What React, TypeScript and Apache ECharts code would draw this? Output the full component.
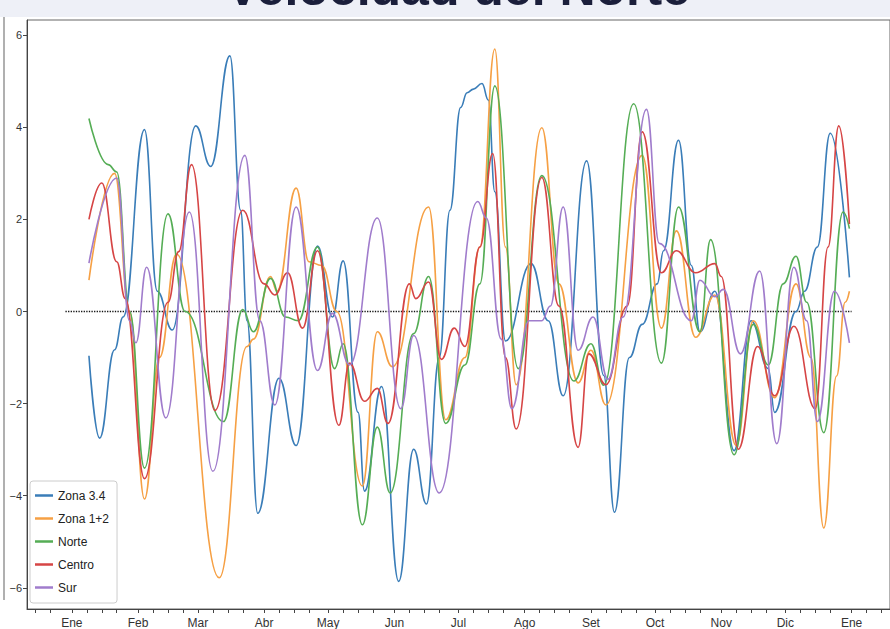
import React, { useEffect, useRef } from "react";
import * as echarts from "echarts";

// Day-of-year (0 = 1 Ene) and value pairs
const zona34: [number, number][] = [
  [8, -0.96], [13, -2.75], [20, -0.83], [24, -0.12], [34, 3.95], [40, 0.44], [47, -0.4],
  [58, 4.03], [65, 3.15], [74, 5.55], [79, 2.2], [82, -0.2], [87, -4.38], [97, -1.45],
  [105, -2.91], [115, 1.42], [122, -0.12], [127, 1.1], [134, -2.19], [137, -3.9],
  [145, -1.63], [153, -5.86], [160, -2.99], [166, -4.18], [172, -1.0], [177, 2.2],
  [182, 4.43], [185, 4.75], [188, 4.83], [192, 4.95], [195, 4.59], [198, 2.6], [203, -0.64],
  [215, 1.04], [223, -0.2], [230, -1.83], [241, 3.27], [249, -1.39], [254, -4.36],
  [261, -1.0], [267, -0.28], [274, 0.6], [277, 1.32], [284, 3.72], [290, 1.0], [294, -0.44],
  [301, 0.44], [310, -3.02], [318, -0.2], [326, -1.24], [329, -2.19], [339, 0.0],
  [343, 0.44], [349, 1.4], [355, 3.87], [364, 0.74],
];
const zona12: [number, number][] = [
  [8, 0.68], [20, 3.0], [27, 0.0], [34, -4.07], [41, -1.0], [49, 1.25], [69, -5.78],
  [82, -0.76], [85, -0.6], [93, 0.76], [96, 0.44], [105, 2.68], [111, 1.08], [117, 1.0],
  [124, 0.0], [136, -3.79], [143, -0.44], [150, -1.2], [167, 2.27], [175, -2.35],
  [184, -1.0], [191, 1.4], [198, 5.7], [203, 1.4], [208, -1.59], [220, 3.99], [228, 0.6],
  [237, -1.55], [243, -0.84], [250, -2.03], [267, 3.39], [276, -0.36], [283, 1.75],
  [292, -0.56], [301, 0.36], [311, -2.91], [319, -0.2], [329, -1.87], [339, 0.6],
  [346, -1.0], [352, -4.7], [358, -1.4], [362, 0.2], [364, 0.44],
];
const norte: [number, number][] = [
  [8, 4.19], [17, 3.19], [21, 3.03], [27, 0.0], [34, -3.4], [45, 2.12], [53, 0.0],
  [71, -2.39], [80, 0.04], [85, -0.44], [93, 0.72], [100, -0.12], [106, -0.2], [115, 1.4],
  [123, -1.24], [127, -0.7], [136, -4.63], [143, -2.51], [149, -3.94], [160, -0.48],
  [167, 0.76], [175, -2.43], [184, -1.16], [191, 0.6], [198, 4.9], [209, -1.24],
  [220, 2.95], [235, -1.51], [243, -0.7], [249, -1.6], [263, 4.51], [276, -1.12],
  [284, 2.27], [294, -0.44], [299, 1.56], [310, -3.11], [319, -0.28], [326, -1.16],
  [333, 0.6], [339, 1.2], [344, 0.2], [352, -2.63], [361, 2.16], [364, 1.8],
];
const centro: [number, number][] = [
  [8, 2.0], [14, 2.79], [21, 1.08], [25, 0.28], [34, -3.63], [45, 0.2], [50, 1.3],
  [56, 3.19], [67, -2.15], [80, 2.2], [90, 0.6], [95, 0.36], [101, 0.84], [108, -0.36],
  [115, 1.32], [125, -2.47], [130, -1.12], [137, -1.95], [143, -1.67], [148, -2.43],
  [158, 0.6], [161, 0.28], [167, 0.64], [173, -1.04], [179, -0.36], [184, -0.76],
  [191, 1.4], [197, 3.43], [203, -1.0], [208, -2.55], [220, 2.91], [228, 0.12],
  [237, -2.95], [242, -0.92], [250, -1.59], [260, 0.12], [267, 3.9], [276, 0.84],
  [283, 1.32], [292, 0.84], [301, 1.04], [304, 0.76], [312, -2.99], [321, -0.76],
  [329, -1.83], [338, -0.32], [348, -2.11], [354, 1.4], [359, 4.03], [364, 1.9],
];
const sur: [number, number][] = [
  [8, 1.05], [21, 2.9], [27, -0.2], [30, -0.68], [35, 0.96], [44, -2.31], [55, 2.16],
  [66, -3.47], [81, 3.39], [88, -0.2], [95, -2.03], [105, 2.27], [115, -1.28],
  [122, -0.04], [130, -1.16], [143, 2.03], [154, -2.11], [160, -0.52], [172, -3.94],
  [190, 2.39], [194, 2.03], [201, -0.6], [206, -2.11], [214, -0.2], [220, -0.2],
  [224, 0.12], [230, 2.27], [237, -0.84], [244, -0.12], [251, -1.47], [258, -0.12],
  [269, 4.39], [275, 1.48], [290, -0.2], [294, 0.68], [301, 0.32], [305, 0.48],
  [313, -0.92], [322, 0.88], [330, -2.87], [338, 0.96], [344, -0.2], [349, -2.39],
  [357, 0.44], [364, -0.68],
];
const zeroLine: [number, number][] = [[-3, 0], [365, 0]];

const seriesNames = ["Zona 3.4", "Zona 1+2", "Norte", "Centro", "Sur"];
const seriesData = [zona34, zona12, norte, centro, sur];
const seriesColors = ["#3a7db8", "#f6a044", "#55ad55", "#d64545", "#a07ccc"];

const monthNames = ["Ene", "Feb", "Mar", "Abr", "May", "Jun", "Jul", "Ago", "Set", "Oct", "Nov", "Dic", "Ene"];
const monthStarts = [0, 31, 59, 90, 120, 151, 181, 212, 243, 273, 304, 334, 365];
const yTicks = [-6, -4, -2, 0, 2, 4, 6];

const weekTicks: number[] = [];
[-31, ...monthStarts].forEach((m) => {
  [0, 7, 14, 21].forEach((o) => {
    const d = m + o;
    if (d >= -20 && d <= 380) weekTicks.push(d);
  });
});

export default function App() {
  const ref = useRef<HTMLDivElement>(null);
  useEffect(() => {
    document.body.style.margin = "0";
    document.body.style.overflow = "hidden";
    if (!ref.current) return;
    const chart = echarts.init(ref.current, undefined, { renderer: "svg" });
    const font = "'Liberation Sans', 'DejaVu Sans', sans-serif";
    chart.setOption({
      animation: false,
      backgroundColor: "#ffffff",
      title: {
        text: "Velocidad del Norte",
        left: 453,
        textAlign: "center",
        top: -42,
        z: 10,
        textStyle: { fontFamily: font, fontSize: 50, fontWeight: "bold", color: "#1b1f3b" },
      },
      graphic: [
        { type: "rect", z: 0, shape: { x: 0, y: 0, width: 890, height: 17 }, style: { fill: "#eef0f7" } },
        { type: "line", z: 1, shape: { x1: 4, y1: 17, x2: 4, y2: 600 }, style: { stroke: "#b0b0b0", lineWidth: 2 } },
      ],
      legend: {
        orient: "vertical",
        left: 30,
        top: 481,
        data: seriesNames,
        icon: "rect",
        itemWidth: 18,
        itemHeight: 2.5,
        itemGap: 10,
        padding: [8, 8, 9, 5],
        borderColor: "#cccccc",
        borderWidth: 1,
        borderRadius: 3,
        backgroundColor: "rgba(255,255,255,0.85)",
        textStyle: { fontFamily: font, fontSize: 12, lineHeight: 13, color: "#222" },
      },
      grid: {
        left: 27,
        right: -16,
        top: 20,
        bottom: 17,
        show: true,
        borderColor: "#666",
        borderWidth: 1,
      },
      xAxis: {
        type: "value",
        min: -21,
        max: 383,
        axisLine: { show: true, onZero: false, lineStyle: { color: "#444" } },
        axisTick: { show: true, customValues: weekTicks, length: 4, lineStyle: { color: "#444" } },
        axisLabel: {
          customValues: monthStarts,
          formatter: (v: number) => monthNames[monthStarts.indexOf(Math.round(v))] ?? "",
          margin: 8,
          fontSize: 12,
          fontFamily: font,
          color: "#333",
        },
        splitLine: { show: false },
      },
      yAxis: {
        type: "value",
        min: -6.46,
        max: 6.33,
        axisLine: { show: true, onZero: false, lineStyle: { color: "#444" } },
        axisTick: { show: true, customValues: yTicks, length: 4, lineStyle: { color: "#444" } },
        axisLabel: {
          customValues: yTicks,
          formatter: (v: number) => String(v).replace("-", "\u2212"),
          margin: 5,
          fontSize: 11,
          fontFamily: font,
          color: "#333",
        },
        splitLine: { show: false },
      },
      series: [
        {
          name: "zero",
          type: "line",
          data: zeroLine,
          symbol: "none",
          silent: true,
          lineStyle: { type: "dotted", color: "#111", width: 1.3 },
          z: 1,
        },
        ...seriesNames.map((n, i) => ({
          name: n,
          type: "line",
          data: seriesData[i],
          symbol: "none",
          smooth: 0.45,
          smoothMonotone: "x",
          color: seriesColors[i],
          lineStyle: { width: 1.6, color: seriesColors[i] },
          z: 2 + i,
        })),
      ],
    });
    return () => chart.dispose();
  }, []);
  return <div ref={ref} style={{ position: "fixed", left: 0, top: 0, width: 890, height: 629 }} />;
}
